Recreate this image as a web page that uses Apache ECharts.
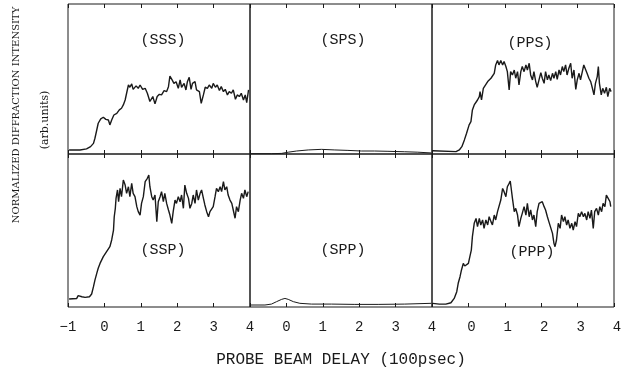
<!DOCTYPE html>
<html>
<head>
<meta charset="utf-8">
<script src="https://cdn.jsdelivr.net/npm/echarts@6/dist/echarts.min.js"></script>
<style>
html,body{margin:0;padding:0;background:#fff;}
#c{width:621px;height:372px;}
</style>
</head>
<body>
<div id="c"></div>
<script>
// ---- data (probe delay in 100 ps, intensity arb. units 0-100) ----
const xTickValues = [-1, 0, 1, 2, 3, 4];
const panelNames = ['(SSS)', '(SPS)', '(PPS)', '(SSP)', '(SPP)', '(PPP)'];

const sssX = [-0.97,-0.67,-0.49,-0.38,-0.30,-0.26,-0.21,-0.17,-0.10,-0.03,0.04,0.11,0.15,0.20,0.26,0.34,0.41,0.47,0.52,0.57,0.61,0.66,0.70,0.75,0.79,0.87,0.93,0.98,1.05,1.12,1.18,1.25,1.33,1.39,1.45,1.51,1.57,1.64,1.71,1.76,1.80,1.86,1.91,1.97,2.03,2.08,2.12,2.19,2.24,2.28,2.33,2.38,2.42,2.49,2.53,2.61,2.66,2.72,2.77,2.83,2.88,2.95,2.99,3.05,3.10,3.16,3.21,3.27,3.32,3.38,3.43,3.49,3.54,3.60,3.65,3.71,3.76,3.82,3.87,3.91,3.96];
const sssY = [2.7,2.7,3.4,4.9,7.1,10.5,16,20.5,23.4,24.5,23.1,22.7,19.4,22.7,26,27.1,29.4,30.5,32.7,36,40.5,46,44.5,46.7,43.1,45.4,43.8,46,43.1,43.8,40.5,35,38.3,33.4,38.3,39.8,39.4,42.3,41.6,44.9,52,49.4,47.1,48.2,43.8,49.4,44.5,47.1,42.7,48.2,51.1,43.1,47.1,48.2,42.7,41.6,33.8,39.4,44.5,43.8,46,43.8,47.1,44.5,46,42.3,44.9,41.6,43.1,39.4,41.6,40.5,42.7,36.5,39.4,38.3,40.5,36,39.4,34.3,42.7];

const spsX = [-1,-0.41,-0.13,0.05,0.28,0.6,0.96,1.33,1.69,2.06,2.42,2.79,3.25,3.61,3.98];
const spsY = [0.2,0.2,0.4,1.2,2,2.7,3.1,2.7,2.4,2,2,1.8,1.5,1.2,0.7];

const ppsX = [-0.98,-0.34,-0.25,-0.18,-0.11,-0.05,0.02,0.07,0.11,0.16,0.21,0.25,0.30,0.32,0.36,0.41,0.46,0.53,0.57,0.62,0.66,0.71,0.75,0.80,0.84,0.89,0.94,0.98,1.03,1.07,1.12,1.16,1.21,1.26,1.30,1.35,1.39,1.44,1.48,1.53,1.58,1.62,1.67,1.71,1.76,1.80,1.85,1.89,1.94,1.99,2.03,2.08,2.12,2.17,2.21,2.26,2.31,2.35,2.40,2.44,2.49,2.53,2.58,2.62,2.67,2.71,2.76,2.81,2.85,2.90,2.95,2.99,3.04,3.08,3.13,3.17,3.22,3.26,3.31,3.36,3.40,3.45,3.49,3.54,3.57,3.60,3.65,3.69,3.74,3.79,3.83,3.88,3.92];
const ppsY = [2.2,1.6,2.7,4.9,9.4,13.8,19.4,21.6,29.4,32.7,31.6,36,38.3,41.6,36,43.8,44.9,48.3,49.4,50.5,49.4,53.8,59.4,62.3,59.4,62.3,59.4,61.6,58.3,54.9,42.7,54.9,52.7,56,50.5,54.9,46,54.9,58.3,54.9,59.4,56,60.5,52.7,49.4,54.9,48.3,44.5,49.4,54.3,50.5,47.1,54.9,49.4,52.7,48.9,53.8,50.5,54.9,49.8,56,52.7,58.3,54.9,59.4,52.7,57.2,60.5,50.5,56,43.1,49.4,53.8,49.4,54.9,59.4,60.5,53.8,50.5,48.3,44.5,39.4,47.1,51.6,58.3,47.1,39.4,43.8,40.5,44.5,38.3,43.8,41.6];

const sspX = [-0.97,-0.76,-0.72,-0.67,-0.62,-0.53,-0.41,-0.35,-0.30,-0.26,-0.21,-0.17,-0.12,-0.08,-0.03,0.02,0.06,0.11,0.15,0.20,0.25,0.27,0.30,0.32,0.36,0.39,0.43,0.47,0.52,0.57,0.61,0.66,0.70,0.75,0.79,0.84,0.89,0.93,0.98,1.02,1.07,1.12,1.18,1.22,1.25,1.30,1.34,1.39,1.44,1.48,1.53,1.57,1.62,1.66,1.71,1.76,1.80,1.85,1.89,1.94,1.98,2.03,2.08,2.12,2.17,2.21,2.26,2.31,2.35,2.40,2.44,2.49,2.53,2.58,2.63,2.67,2.72,2.76,2.81,2.86,2.90,2.95,2.99,3.04,3.08,3.13,3.18,3.22,3.27,3.31,3.36,3.40,3.45,3.50,3.54,3.59,3.63,3.68,3.73,3.77,3.82,3.86,3.91,3.95];
const sspY = [5.2,5.6,7.4,7.8,6.7,6.3,6.7,8.5,13.3,17.6,22,25.3,28.5,29.6,32.9,33.3,36.2,37.2,39.4,43.8,50.3,59,64.5,71,76.5,68.8,77.5,72.1,83,79.7,74.3,78.6,72.1,80.8,74.3,72.1,65.6,62.3,60.1,67.7,72.1,81.9,84.1,86.3,78.6,72.1,69.9,73.2,55.8,68.8,72.1,75.4,68.8,74.3,67.7,63.4,60.1,54.7,62.3,69.9,67.7,72.1,68.8,73.2,64.5,79.7,74.3,71,64.5,67.7,73.2,67.7,76.5,69.9,74.3,76.5,71,66.7,62.3,59,62.3,61.2,65.6,72.1,77.5,75.4,78.6,75.4,81.9,76.5,78.6,73.2,69.9,67.7,63.4,58,65.6,62.3,69.9,74.3,71,76.5,72.1,75.4];

const sppX = [-1,-0.59,-0.41,-0.27,-0.13,-0.04,0.05,0.19,0.37,0.69,1.24,1.88,2.52,3.25,3.98];
const sppY = [1.3,1.3,1.9,3.5,5.0,5.6,5.0,3.5,2.4,1.9,1.9,1.7,1.7,1.9,2.4];

const pppX = [-0.98,-0.8,-0.62,-0.48,-0.39,-0.32,-0.28,-0.23,-0.19,-0.14,-0.10,-0.05,0.00,0.04,0.08,0.11,0.16,0.21,0.25,0.30,0.34,0.39,0.43,0.48,0.53,0.57,0.62,0.66,0.71,0.75,0.80,0.84,0.89,0.94,0.98,1.03,1.07,1.12,1.15,1.17,1.21,1.26,1.30,1.35,1.39,1.44,1.48,1.53,1.58,1.62,1.67,1.71,1.76,1.80,1.85,1.89,1.94,1.99,2.03,2.08,2.12,2.17,2.21,2.26,2.31,2.35,2.38,2.42,2.47,2.52,2.56,2.61,2.65,2.70,2.74,2.79,2.84,2.88,2.93,2.97,3.02,3.06,3.11,3.16,3.20,3.25,3.29,3.34,3.38,3.43,3.47,3.52,3.57,3.61,3.66,3.70,3.75,3.79,3.84,3.89,3.91];
const pppY = [2.4,1.9,1.9,2.8,5.6,10,15.5,19.8,24.2,28.5,26.8,26.3,28.5,32.9,37.2,46,54.7,57.9,52.5,57.9,53.6,56.9,51.4,56.9,53.6,59,55.8,53.6,60.1,56.9,62.3,61.2,69.9,77.5,75.4,72.1,78.6,80.8,82.3,78.6,71,62.3,64.5,60.1,52.5,57.9,61.2,65.6,60.1,67.7,59,63.4,56.9,60.1,52.5,62.3,67.7,66.7,68.8,65.6,63.4,59,55.8,56.9,48.1,41.6,39.4,43.8,54.7,51.4,60.1,55.8,59,53.6,56.9,51.4,54.7,50.3,55.8,52.5,61.2,59,62.3,59,61.2,56.9,62.3,57.9,63.4,51.4,62.3,64.5,60.1,65.6,62.3,67.7,65.6,73.2,71,68.8,65.6];

// ---- layout ----
const colLeft = [68, 250, 432];
const colW = 182;
const rowTop = [4, 154];
const rowH = [150, 153];
const ink = '#1a1a1a';
const mono = '"Liberation Mono", "DejaVu Sans Mono", monospace';
const serif = '"DejaVu Serif", "Liberation Serif", serif';

const traces = [[sssX,sssY,1.4],[spsX,spsY,1],[ppsX,ppsY,1.4],[sspX,sspY,1.4],[sppX,sppY,1],[pppX,pppY,1.4]];

const grids = [], xAxes = [], yAxes = [], series = [], texts = [];
const labelPos = [[163,40],[343,40],[530,43],[163,250],[343,250],[532,252]];

for (let i = 0; i < 6; i++) {
  const r = Math.floor(i / 3), c = i % 3;
  grids.push({left: colLeft[c], top: rowTop[r], width: colW, height: rowH[r],
    outerBoundsMode: 'none', containLabel: false,
    show: true, borderColor: ink, borderWidth: 1, backgroundColor: 'transparent'});
  const bottomRow = r === 1;
  const hideMin = c > 0;
  xAxes.push({type: 'value', gridIndex: i, position: 'bottom', min: -1, max: 4, interval: 1,
    axisLine: {show: false},
    axisTick: {show: true, inside: true, length: 4, lineStyle: {color: ink, width: 1}},
    splitLine: {show: false},
    axisLabel: {show: bottomRow, margin: 13, fontFamily: mono, fontSize: 14, color: ink,
      padding: c === 2 ? [0,0,0,6] : 0,
      formatter: v => (hideMin && v === -1) ? '' : (v === -1 ? '\u22121' : String(v))}
  });
  xAxes.push({type: 'value', gridIndex: i, position: 'top', min: -1, max: 4, interval: 1,
    axisLine: {show: false},
    axisTick: {show: true, inside: true, length: 4, lineStyle: {color: ink, width: 1}},
    splitLine: {show: false}, axisLabel: {show: false}
  });
  yAxes.push({type: 'value', gridIndex: i, min: 0, max: 100, show: false, splitLine: {show: false}});
  const tr = traces[i];
  series.push({type: 'line', xAxisIndex: 2 * i, yAxisIndex: i, showSymbol: false, symbol: 'none',
    data: tr[0].map((x, k) => [x, tr[1][k]]),
    lineStyle: {color: ink, width: tr[2]}, animation: false, silent: true});
  texts.push({type: 'text', x: labelPos[i][0], y: labelPos[i][1],
    style: {text: panelNames[i], font: '15px ' + mono, fill: ink, textAlign: 'center', textVerticalAlign: 'middle'}});
}

texts.push({type: 'text', x: 16, y: 115, rotation: Math.PI / 2,
  style: {text: 'NORMALIZED DIFFRACTION INTENSITY', font: '10px ' + serif, fill: ink, textAlign: 'center', textVerticalAlign: 'middle'}});
texts.push({type: 'text', x: 45, y: 120, rotation: Math.PI / 2,
  style: {text: '(arb.units)', font: '11px ' + serif, fill: ink, textAlign: 'center', textVerticalAlign: 'middle'}});
texts.push({type: 'text', x: 341, y: 360,
  style: {text: 'PROBE BEAM DELAY (100psec)', font: '16px ' + mono, fill: ink, textAlign: 'center', textVerticalAlign: 'middle'}});

const chart = echarts.init(document.getElementById('c'), null, {renderer: 'canvas'});
chart.setOption({
  animation: false,
  backgroundColor: '#fff',
  grid: grids, xAxis: xAxes, yAxis: yAxes, series: series,
  graphic: texts
});
</script>
</body>
</html>
